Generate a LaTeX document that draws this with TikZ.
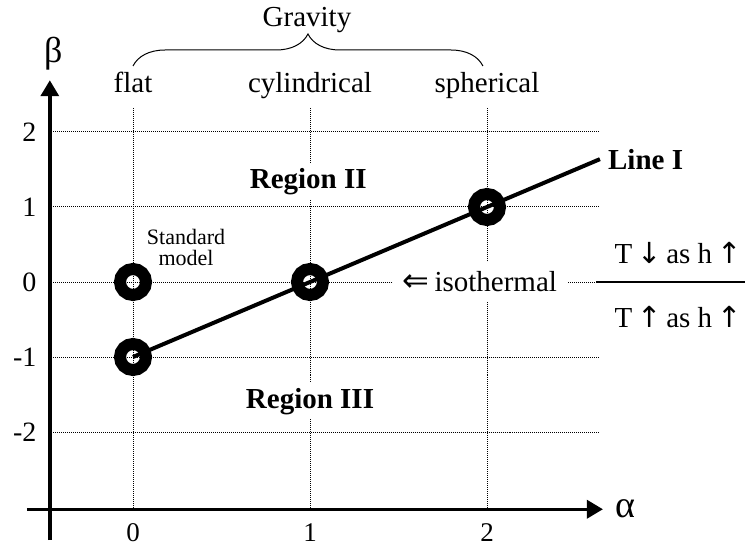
\documentclass[tikz,border=0pt]{standalone}
\usepackage{fontspec}
\setmainfont{Liberation Serif}
\newfontfamily\arrowfont{DejaVu Sans}
\usetikzlibrary{arrows.meta,decorations.pathreplacing}

\newcommand{\fs}[1]{\fontsize{#1bp}{#1bp}\selectfont}

\begin{document}
\begin{tikzpicture}[x=177bp, y=75bp, font=\fs{29},
    gridline/.style={densely dotted, line width=1bp},
    axis/.style={line width=3.5bp, -{Triangle[length=16bp,width=18bp]}},
    ring/.style={line width=12bp},
    region/.style={font=\fs{29}\bfseries, fill=white, inner sep=5bp, anchor=base}]
    \useasboundingbox (-133bp,-265bp) rectangle (613bp,282bp);

    % dotted grid
    \foreach \k in {-2,...,2}
      \draw[gridline] (-0.45,\k) -- (2.64,\k);
    \foreach \k in {0,1,2}
      \draw[gridline] (\k,2.32) -- (\k,-3.03);

    % axes
    \draw[axis] (-0.47,-3.44) -- (-0.47,2.69);
    \draw[axis] (-0.6,-3.03) -- (2.655,-3.03);
    \node[font=\fs{36}] (beta) at (-0.45,3.05) {β};
    \node[font=\fs{38}] (alpha) at (2.78,-3.02) {α};
    \foreach \k in {-2,...,2}
      \node[font=\fs{28}, anchor=east, inner sep=0pt] (ytick\k) at (-0.545,\k) {\k};
    \foreach \k in {0,1,2}
      \node[font=\fs{27}] (xtick\k) at (\k,-3.34) {\k};

    % gravity
    \node[anchor=base] (flat) at (0,2.53) {flat};
    \node[anchor=base] (cyl) at (1,2.53) {cylindrical};
    \node[anchor=base] (sph) at (2,2.53) {spherical};
    \coordinate (braceL) at (0,2.88);
    \coordinate (braceR) at (1.977,2.88);
    \draw[decorate, decoration={brace, amplitude=32bp}, line width=1bp] (braceL) -- (braceR);
    \node[anchor=base] (gravity) at (0.983,3.4) {Gravity};

    % regions
    \node[region] (reg2) at (0.99,1.253) {Region II};
    \node[region] (reg3) at (1.0,-1.68) {Region III};

    % line I and points
    \coordinate (std) at (0,0);
    \coordinate (pA) at (0,-1);
    \coordinate (pB) at (1,0);
    \coordinate (pC) at (2,1);
    \coordinate (lineend) at (2.638,1.638);
    \draw[line width=4bp] (pA) -- (lineend);
    \node[font=\fs{29}\bfseries, anchor=west, inner sep=8bp] (line1) at (lineend) {Line I};
    \foreach \p in {std,pA,pB,pC}
      \draw[ring] (\p) circle[radius=13bp];
    \node[font=\fs{22}, align=center, inner sep=0pt] (stdlabel) at (0.30,0.46)
      {Standard\\[-0.5bp]model};

    % isothermal
    \node[anchor=base, fill=white, inner sep=10bp] (iso) at (1.96,-0.133)
      {{\arrowfont\fs{32}⇐}\,isothermal};
    \coordinate (fracL) at (2.616,0);
    \coordinate (fracR) at (3.458,0);
    \draw[line width=1.5bp] (fracL) -- (fracR);
    \node[anchor=base] (tdown) at (3.079,0.253)
      {T\,{\arrowfont ↓}\,as h\,{\arrowfont ↑}};
    \node[anchor=base] (tup) at (3.079,-0.6)
      {T\,{\arrowfont ↑}\,as h\,{\arrowfont ↑}};
  \end{tikzpicture}
\end{document}
